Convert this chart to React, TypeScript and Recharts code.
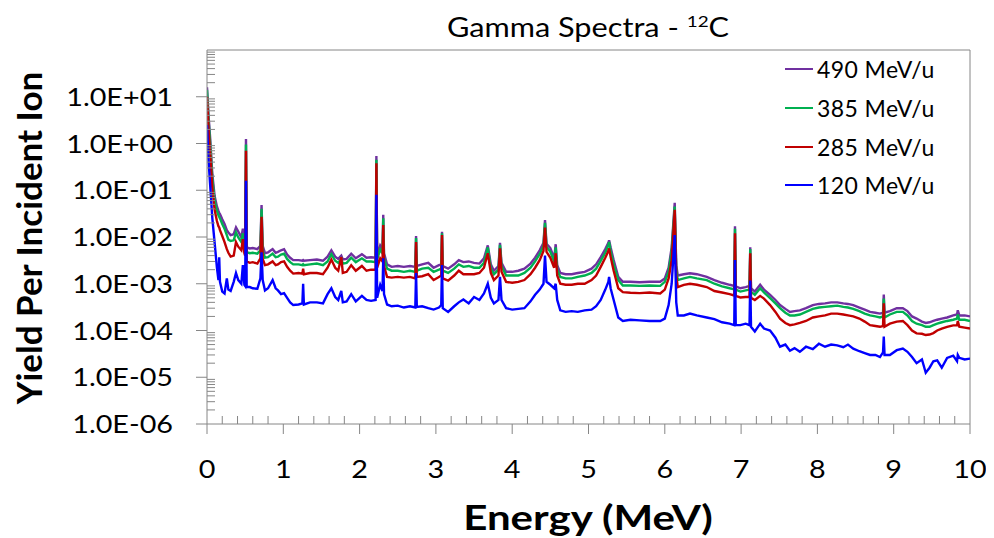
import { LineChart, Line, XAxis, YAxis, Legend, ReferenceLine } from "recharts";

const FONT = "Lato, 'Liberation Sans', sans-serif";
const AXIS_GRAY = "#868686";

// energy grid (MeV), shared by all four spectra
const energy = [
  0, 0.02, 0.04, 0.07, 0.1, 0.13, 0.15, 0.16, 0.17, 0.2, 0.23, 0.26, 0.28, 0.31, 0.35, 0.38, 0.41, 0.45, 0.47, 0.49, 0.5,
  0.511, 0.52, 0.56, 0.6, 0.66, 0.7, 0.715, 0.73, 0.76, 0.8, 0.86, 0.9, 0.93, 0.97, 1.01, 1.05, 1.09, 1.13, 1.2, 1.25, 1.26, 1.27,
  1.35, 1.44, 1.52, 1.58, 1.63, 1.68, 1.72, 1.76, 1.78, 1.83, 1.89, 1.95, 2.03, 2.09, 2.15, 2.21,
  2.22, 2.23, 2.27, 2.3, 2.31, 2.32, 2.36, 2.42, 2.5, 2.58, 2.66, 2.73, 2.74, 2.75, 2.82, 2.9, 2.97, 3.04, 3.07, 3.08, 3.09,
  3.16, 3.24, 3.3, 3.36, 3.43, 3.5, 3.57, 3.63, 3.68, 3.72, 3.76, 3.82, 3.84, 3.86, 3.92, 4.0, 4.08, 4.16, 4.24, 4.3, 4.36, 4.41, 4.43, 4.45, 4.5, 4.55, 4.57, 4.59,
  4.63, 4.7, 4.78, 4.86, 4.95, 5.04, 5.1, 5.16, 5.22, 5.26, 5.27, 5.29, 5.33, 5.39, 5.45, 5.55, 5.67, 5.8, 5.94, 6.0, 6.05, 6.09, 6.13, 6.15, 6.17,
  6.25, 6.33, 6.42, 6.55, 6.65, 6.75, 6.85, 6.91, 6.92, 6.93, 6.99, 7.06, 7.11, 7.12, 7.13, 7.18, 7.25,
  7.3, 7.38, 7.45, 7.51, 7.58, 7.64, 7.7, 7.77, 7.85, 7.94, 8.02, 8.1, 8.18, 8.26, 8.34, 8.4, 8.47, 8.55, 8.62, 8.69,
  8.76, 8.82, 8.86, 8.87, 8.88, 8.95, 9.04, 9.12, 9.18, 9.24, 9.3, 9.37, 9.42, 9.47, 9.52, 9.57, 9.63, 9.7, 9.78, 9.83,
  9.84, 9.86, 9.93, 10,
];

const yield490 = [
  16, 4, 1.4, 0.22, 0.075, 0.045, 0.036, 0.033, 0.031, 0.024, 0.019, 0.014, 0.0125, 0.011, 0.0115, 0.016, 0.013, 0.0098, 0.015, 0.0085, 0.0078,
  1.25, 0.006, 0.0057, 0.0058, 0.0055, 0.0065, 0.048, 0.0065, 0.0045, 0.0047, 0.0055, 0.0046, 0.0048, 0.0052, 0.0055, 0.0042, 0.0036, 0.0032, 0.0032, 0.0031, 0.0032, 0.0031,
  0.0032, 0.0033, 0.0031, 0.0038, 0.0052, 0.0038, 0.0034, 0.004, 0.0033, 0.0034, 0.0044, 0.0035, 0.0043, 0.0036, 0.0037, 0.0036,
  0.54, 0.004, 0.0066, 0.0055, 0.03, 0.0045, 0.0026, 0.0023, 0.0024, 0.0023, 0.0024, 0.0023, 0.0105, 0.0024, 0.0026, 0.0028, 0.0022, 0.0025, 0.0026, 0.013, 0.0024,
  0.0021, 0.0026, 0.0032, 0.0029, 0.003, 0.0028, 0.0027, 0.0035, 0.0066, 0.0026, 0.0019, 0.0024, 0.0075, 0.0028, 0.0018, 0.0018, 0.0019, 0.0021, 0.0027, 0.0036, 0.0052, 0.0075, 0.023, 0.0072, 0.0058, 0.0035, 0.007, 0.0025,
  0.0017, 0.0016, 0.0016, 0.0017, 0.0018, 0.0021, 0.0026, 0.0037, 0.0055, 0.0075, 0.0085, 0.006, 0.0032, 0.0014, 0.0011, 0.0011, 0.00108, 0.0011, 0.0011, 0.0013, 0.0022, 0.006, 0.054, 0.0025, 0.0015,
  0.0016, 0.00168, 0.0016, 0.0014, 0.0012, 0.00105, 0.00095, 0.0009, 0.017, 0.00088, 0.0008, 0.00085, 0.0009, 0.006, 0.0008, 0.00068, 0.00095,
  0.00075, 0.00058, 0.00045, 0.00035, 0.00029, 0.00025, 0.00026, 0.00027, 0.0003, 0.00035, 0.00037, 0.00038, 0.0004, 0.0004, 0.00038, 0.00037, 0.00035, 0.00031, 0.00028, 0.00025,
  0.00024, 0.00023, 0.00024, 0.00059, 0.00024, 0.00026, 0.0003, 0.0003, 0.00026, 0.0002, 0.00018, 0.000155, 0.000145, 0.00015, 0.00016, 0.00017, 0.00018, 0.00019, 0.00021, 0.00022,
  0.00027, 0.00021, 0.00021, 0.0002,
];

const yield385 = [
  14, 3.2, 1.1, 0.17, 0.06, 0.036, 0.029, 0.027, 0.025, 0.019, 0.015, 0.011, 0.0088, 0.0082, 0.0085, 0.0125, 0.0098, 0.0078, 0.012, 0.0068, 0.0062,
  0.95, 0.0048, 0.0045, 0.0046, 0.0044, 0.0052, 0.04, 0.005, 0.0036, 0.0037, 0.0044, 0.0037, 0.0038, 0.0042, 0.0044, 0.0034, 0.0029, 0.0026, 0.0026, 0.0025, 0.0026, 0.0025,
  0.0026, 0.0027, 0.0025, 0.003, 0.0043, 0.0031, 0.0028, 0.0034, 0.0027, 0.0028, 0.0036, 0.0029, 0.0035, 0.003, 0.003, 0.0029,
  0.45, 0.0033, 0.0054, 0.0045, 0.025, 0.0036, 0.0021, 0.0019, 0.0019, 0.0018, 0.0019, 0.0018, 0.0095, 0.0019, 0.0021, 0.0022, 0.0018, 0.002, 0.0021, 0.012, 0.0019,
  0.0017, 0.0021, 0.0026, 0.0023, 0.0024, 0.0022, 0.0022, 0.0028, 0.006, 0.0021, 0.0016, 0.002, 0.0068, 0.0024, 0.0015, 0.0015, 0.0015, 0.0017, 0.0022, 0.003, 0.0043, 0.0065, 0.02, 0.0062, 0.0048, 0.003, 0.006, 0.002,
  0.0014, 0.0013, 0.0013, 0.0014, 0.0015, 0.0017, 0.0021, 0.0031, 0.0046, 0.0068, 0.0078, 0.005, 0.0026, 0.0012, 0.00092, 0.00092, 0.0009, 0.00092, 0.0009, 0.0011, 0.0018, 0.005, 0.045, 0.002, 0.0012,
  0.0013, 0.0014, 0.0013, 0.0012, 0.001, 0.00088, 0.0008, 0.00076, 0.015, 0.00075, 0.00068, 0.00072, 0.00075, 0.0055, 0.00068, 0.00058, 0.0008,
  0.00065, 0.00049, 0.00038, 0.0003, 0.00024, 0.00021, 0.00021, 0.00022, 0.00025, 0.00029, 0.00031, 0.00032, 0.00033, 0.00034, 0.00032, 0.00031, 0.00029, 0.00026, 0.00023, 0.00021,
  0.0002, 0.00019, 0.0002, 0.00048, 0.00019, 0.00022, 0.00025, 0.00025, 0.00021, 0.00016, 0.00014, 0.00013, 0.00012, 0.00012, 0.00013, 0.00014, 0.00015, 0.00016, 0.00017, 0.00018,
  0.00022, 0.00017, 0.00017, 0.00016,
];

const yield285 = [
  10, 2.2, 0.7, 0.11, 0.038, 0.022, 0.017, 0.016, 0.014, 0.0105, 0.0078, 0.0055, 0.0046, 0.0038, 0.004, 0.0078, 0.0062, 0.0052, 0.009, 0.0045, 0.004,
  0.7, 0.003, 0.0028, 0.0029, 0.0027, 0.0035, 0.027, 0.0034, 0.0025, 0.0026, 0.003, 0.0025, 0.0026, 0.0029, 0.003, 0.0023, 0.0019, 0.00165, 0.0017, 0.00165, 0.0021, 0.0016,
  0.0017, 0.0017, 0.0016, 0.0022, 0.0033, 0.0022, 0.0019, 0.0037, 0.0017, 0.0018, 0.0025, 0.0019, 0.0024, 0.0019, 0.002, 0.002,
  0.38, 0.0022, 0.0035, 0.003, 0.018, 0.0024, 0.0014, 0.00135, 0.0014, 0.00135, 0.0014, 0.0013, 0.0078, 0.0014, 0.00145, 0.0016, 0.0012, 0.0014, 0.0015, 0.011, 0.0013,
  0.00117, 0.0015, 0.0019, 0.0016, 0.0016, 0.0016, 0.0017, 0.0022, 0.0045, 0.0017, 0.0012, 0.0015, 0.0057, 0.0018, 0.0011, 0.00105, 0.0011, 0.0012, 0.0016, 0.0022, 0.0032, 0.005, 0.016, 0.0048, 0.0036, 0.0022, 0.0045, 0.0015,
  0.001, 0.00095, 0.00095, 0.001, 0.001, 0.0012, 0.0015, 0.0023, 0.0036, 0.005, 0.0057, 0.0038, 0.0019, 0.0008, 0.00066, 0.00064, 0.00063, 0.00065, 0.00062, 0.00075, 0.0013, 0.0032, 0.038, 0.0015, 0.00085,
  0.00095, 0.001, 0.00095, 0.00085, 0.0007, 0.00065, 0.0006, 0.00056, 0.012, 0.00055, 0.00051, 0.00052, 0.00052, 0.0045, 0.0005, 0.00045, 0.00055,
  0.00048, 0.00035, 0.00025, 0.00018, 0.000145, 0.00013, 0.000135, 0.000145, 0.00016, 0.00019, 0.0002, 0.00021, 0.00023, 0.00023, 0.00022, 0.00021, 0.0002, 0.00018, 0.000155, 0.00013,
  0.000125, 0.00012, 0.000125, 0.00038, 0.00012, 0.00014, 0.000155, 0.00016, 0.00013, 0.0001, 0.000087, 0.000085, 0.00008, 0.000082, 0.000088, 0.0001, 0.00011, 0.00012, 0.000129, 0.00013,
  0.00016, 0.00012, 0.000115, 0.00011,
];

const yield120 = [
  2.5, 0.45, 0.14, 0.025, 0.0075, 0.0022, 0.0012, 0.0037, 0.0011, 0.00068, 0.00062, 0.0013, 0.00075, 0.0007, 0.0011, 0.0017, 0.0012, 0.001, 0.0025, 0.00095, 0.0009,
  0.16, 0.00085, 0.00085, 0.0008, 0.00078, 0.0013, 0.0047, 0.0012, 0.00072, 0.0008, 0.0012, 0.0008, 0.00072, 0.0006, 0.00063, 0.0005, 0.0004, 0.00035, 0.00036, 0.00038, 0.001, 0.00036,
  0.0004, 0.0004, 0.00038, 0.0006, 0.0008, 0.00052, 0.00045, 0.0007, 0.0004, 0.00042, 0.0006, 0.00042, 0.00055, 0.00045, 0.00043, 0.00045,
  0.08, 0.0005, 0.00095, 0.0007, 0.0035, 0.0006, 0.00036, 0.00033, 0.00034, 0.00031, 0.00033, 0.00031, 0.0017, 0.00032, 0.00033, 0.0003, 0.00028, 0.00031, 0.00035, 0.0025, 0.0003,
  0.00025, 0.00033, 0.0004, 0.00046, 0.00038, 0.00052, 0.00045, 0.00062, 0.001, 0.0005, 0.00038, 0.00045, 0.0014, 0.00045, 0.0003, 0.00028, 0.00029, 0.0003, 0.00042, 0.00058, 0.00075, 0.001, 0.004, 0.0011, 0.00095, 0.0008, 0.001, 0.00045,
  0.00027, 0.00025, 0.00026, 0.00025, 0.00027, 0.00028, 0.00033, 0.00045, 0.00075, 0.0011, 0.0014, 0.0008, 0.00045, 0.00019, 0.00016, 0.00017, 0.000165, 0.00016, 0.00016, 0.00018, 0.00035, 0.001, 0.011, 0.0004, 0.00021,
  0.00021, 0.00023, 0.00021, 0.00019, 0.000175, 0.00015, 0.00014, 0.00013, 0.0032, 0.00013, 0.00013, 0.00014, 0.00013, 0.00117, 0.00012, 0.000095, 0.00014,
  0.00011, 0.0001, 0.00007, 0.000045, 0.00005, 0.000037, 0.000042, 0.000035, 0.000045, 0.00004, 0.000052, 0.000045, 0.00005, 0.000048, 0.000044, 0.00005, 0.000041, 0.000036, 0.000033, 0.00003,
  0.00003, 0.000027, 0.000034, 0.000074, 0.00003, 0.00003, 0.000038, 0.000041, 0.000035, 0.000027, 0.00002, 0.000024, 0.0000125, 0.000016, 0.000022, 0.000023, 0.000016, 0.000026, 0.000029, 0.000022,
  0.00003, 0.000026, 0.000024, 0.000025,
];

const series = [
  { key: "y490", name: "490 MeV/u", color: "#7030A0" },
  { key: "y385", name: "385 MeV/u", color: "#00B050" },
  { key: "y285", name: "285 MeV/u", color: "#C00000" },
  { key: "y120", name: "120 MeV/u", color: "#0000FF" },
];

const xTicks = [0, 1, 2, 3, 4, 5, 6, 7, 8, 9, 10];
const xMinorTicks = [
  0.2, 0.4, 0.6, 0.8, 1.2, 1.4, 1.6, 1.8, 2.2, 2.4, 2.6, 2.8, 3.2, 3.4, 3.6, 3.8, 4.2, 4.4, 4.6, 4.8,
  5.2, 5.4, 5.6, 5.8, 6.2, 6.4, 6.6, 6.8, 7.2, 7.4, 7.6, 7.8, 8.2, 8.4, 8.6, 8.8, 9.2, 9.4, 9.6, 9.8,
];
const yTicks = [1e-6, 1e-5, 1e-4, 1e-3, 1e-2, 1e-1, 1, 10];
const yMinorTicks = yTicks.flatMap((d) => [2, 3, 4, 5, 6, 7, 8, 9].map((m) => m * d));
const allXTicks = [...xTicks, ...xMinorTicks].sort((a, b) => a - b);
const allYTicks = [...yTicks, ...yMinorTicks].sort((a, b) => a - b);

const data = energy.map((e, i) => ({
  energy: e,
  y490: yield490[i],
  y385: yield385[i],
  y285: yield285[i],
  y120: yield120[i],
}));

const formatSci = (v: number) => {
  const exp = Math.round(Math.log10(v));
  const sign = exp < 0 ? "-" : "+";
  return `1.0E${sign}${String(Math.abs(exp)).padStart(2, "0")}`;
};

const isDecade = (v: number) => yTicks.some((t) => Math.abs(t - v) < t * 1e-6);

// major ticks point outwards with a label, minor ticks point into the plot
const YTick = (props: any) => {
  const { x, y, payload } = props;
  const v = payload.value;
  if (isDecade(v)) {
    return (
      <g>
        <line x1={x - 11} x2={x} y1={y} y2={y} stroke={AXIS_GRAY} />
        <text
          transform={`translate(${x - 34},${y}) scale(1.15,1)`}
          textAnchor="end"
          dy="0.36em"
          fontSize={25}
          fontFamily={FONT}
          fill="#000"
        >
          {formatSci(v)}
        </text>
      </g>
    );
  }
  return <line x1={x} x2={x + 8} y1={y} y2={y} stroke={AXIS_GRAY} />;
};

const XTick = (props: any) => {
  const { x, y, payload } = props;
  const v = payload.value;
  if (xTicks.includes(v)) {
    return (
      <g>
        <line x1={x} x2={x} y1={y} y2={y + 10} stroke={AXIS_GRAY} />
        <text
          transform={`translate(${x},${y + 45}) scale(1.15,1)`}
          textAnchor="middle"
          dy="0.36em"
          fontSize={25}
          fontFamily={FONT}
          fill="#000"
        >
          {v}
        </text>
      </g>
    );
  }
  return <line x1={x} x2={x} y1={y - 8} y2={y} stroke={AXIS_GRAY} />;
};

const LegendBox = () => (
  <div style={{ fontFamily: FONT, fontSize: 23, letterSpacing: 0.4, color: "#000" }}>
    {series.map((s) => (
      <div key={s.key} style={{ display: "flex", alignItems: "center", height: 38.7 }}>
        <span style={{ width: 28, borderTop: `2px solid ${s.color}`, marginRight: 4 }} />
        <span>{s.name}</span>
      </div>
    ))}
  </div>
);

const overlay = {
  position: "absolute" as const,
  fontFamily: FONT,
  whiteSpace: "nowrap" as const,
  color: "#000",
  zIndex: 2,
};

const App = () => {
  return (
    <div style={{ position: "relative", width: 978, height: 530, background: "#fff" }}>
      <LineChart
        width={978}
        height={530}
        data={data}
        margin={{ top: 42, right: 16, bottom: 54, left: 0 }}
        style={{ position: "absolute", left: 0, top: 0 }}
      >
        <XAxis
          dataKey="energy"
          type="number"
          domain={[0, 10]}
          allowDataOverflow
          ticks={allXTicks}
          interval={0}
          height={60}
          tickSize={0}
          tickMargin={0}
          tickLine={false}
          axisLine={{ stroke: AXIS_GRAY }}
          tick={<XTick />}
        />
        <YAxis
          scale="log"
          type="number"
          domain={[1e-6, 100]}
          allowDataOverflow
          ticks={allYTicks}
          interval={0}
          width={199}
          tickSize={0}
          tickMargin={0}
          tickLine={false}
          axisLine={{ stroke: AXIS_GRAY }}
          tick={<YTick />}
        />
        <ReferenceLine y={100} stroke={AXIS_GRAY} />
        <ReferenceLine x={10} stroke={AXIS_GRAY} />
        {series.map((s) => (
          <Line
            key={s.key}
            type="linear"
            dataKey={s.key}
            name={s.name}
            stroke={s.color}
            strokeWidth={2.4}
            dot={false}
            activeDot={false}
            isAnimationActive={false}
          />
        ))}
        <Legend
          layout="vertical"
          align="center"
          verticalAlign="middle"
          width={200}
          wrapperStyle={{ left: 777, top: 42 }}
          content={() => <LegendBox />}
        />
      </LineChart>
      <div
        style={{
          ...overlay,
          left: 580,
          top: 19,
          fontSize: 26,
          transform: "translate(-50%, -50%) scaleX(1.18)",
        }}
      >
        Gamma Spectra - <sup style={{ fontSize: 16 }}>12</sup>C
      </div>
      <div
        style={{
          ...overlay,
          left: 20,
          top: 230,
          fontSize: 35,
          fontWeight: 700,
          transform: "translate(-50%, -50%) rotate(-90deg)",
        }}
      >
        Yield Per Incident Ion
      </div>
      <div
        style={{
          ...overlay,
          left: 580,
          top: 508,
          fontSize: 35,
          fontWeight: 700,
          transform: "translate(-50%, -50%) scaleX(1.2)",
        }}
      >
        Energy (MeV)
      </div>
    </div>
  );
};

export default App;
